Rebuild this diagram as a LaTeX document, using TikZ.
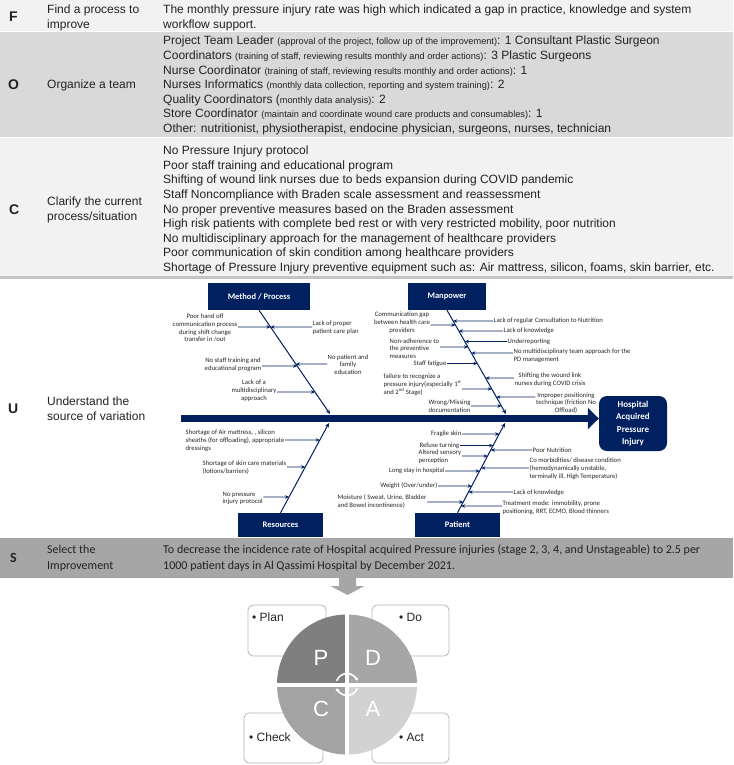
\documentclass[tikz,border=0pt]{standalone}
\usepackage{fontspec}
\setmainfont{Liberation Sans}
\newfontfamily\calfont{Carlito}
\usetikzlibrary{arrows.meta}
\definecolor{navy}{HTML}{002060}
\definecolor{rowA}{HTML}{F2F2F2}
\definecolor{rowB}{HTML}{D9D9D9}
\definecolor{rulec}{HTML}{C4C4C4}
\definecolor{rowS}{HTML}{A6A6A6}
\definecolor{txt}{HTML}{222222}
\definecolor{qP}{HTML}{7F7F7F}
\definecolor{qD}{HTML}{A6A6A6}
\definecolor{qC}{HTML}{A3A3A3}
\definecolor{qA}{HTML}{D2D2D2}
\newcommand\smtxt{\fontsize{9.2}{14.6}\selectfont}
\newcommand\causeleft[3]{\draw[cause] (#1.east |- 0,#3) -- (intersection of #2 and 0,#3--1,#3);}
\newcommand\causeright[3]{\draw[cause] (#1.west |- 0,#3) -- (intersection of #2 and 0,#3--1,#3);}
\begin{document}
\begin{tikzpicture}[x=1pt,y=-1pt,
  tab/.style={anchor=west, align=left, inner sep=0pt, font=\fontsize{12}{14.6}\selectfont, text=txt},
  lett/.style={anchor=west, inner sep=0pt, font=\bfseries\fontsize{14}{14}\selectfont, text=txt},
  fbbox/.style={fill=navy, text=white, font=\calfont\bfseries\fontsize{8.5}{10}\selectfont, inner sep=0pt},
  lbl/.style={inner sep=0.5pt, font=\calfont\fontsize{6.7}{7.8}\selectfont, text=black!85},
  bone/.style={draw=navy, line width=1pt, -{Stealth[length=4.5pt,width=4pt]}},
  cause/.style={draw=navy, line width=0.8pt, -{Stealth[length=4pt,width=3.5pt]}},
  pbox/.style={draw=black!28, line width=0.8pt, rounded corners=5pt, fill=white, inner sep=0pt},
  plbl/.style={anchor=west, inner sep=0pt, font=\fontsize{12}{14}\selectfont, text=black!85},
  pletter/.style={font=\fontsize{22}{22}\selectfont, text=white, inner sep=0pt}
]
\useasboundingbox (0,0) rectangle (733,765);
\fill[white] (0,0) rectangle (733,765);
% row backgrounds
\fill[rowA] (0,0) rectangle (733,31);
\fill[rowB] (0,32) rectangle (733,137);
\fill[rowA] (0,138) rectangle (733,276);
\fill[rulec] (0,276) rectangle (733,278.5);
\fill[rowS] (0,538) rectangle (733,578);

% first column letters
\node[lett] (lF) at (9,17) {F};
\node[lett] (lO) at (8,85) {O};
\node[lett] (lC) at (9,209.5) {C};
\node[lett] (lU) at (8,408.5) {U};
\node[lett, font=\calfont\bfseries\fontsize{14}{14}\selectfont] (lS) at (10,558) {S};

% second column
\node[tab] (nF) at (47,18) {Find a process to\\improve};
\node[tab] (nO) at (47,85.5) {Organize a team};
\node[tab] (nC) at (47,210) {Clarify the current\\process/situation};
\node[tab] (nU) at (47,409) {Understand the\\source of variation};
\node[tab, font=\calfont\fontsize{12}{16}\selectfont] (nS) at (47,558) {Select the\\Improvement};

% third column
\node[tab] (cF) at (163,18) {The monthly pressure injury rate was high which indicated a gap in practice, knowledge and system\\workflow support.};
\node[tab] (cO) at (163,85.5) {Project Team Leader {\smtxt(approval of the project, follow up of the improvement)}: 1 Consultant Plastic Surgeon\\
Coordinators {\smtxt(training of staff, reviewing results monthly and order actions)}: 3 Plastic Surgeons\\
Nurse Coordinator {\smtxt(training of staff, reviewing results monthly and order actions)}: 1\\
Nurses Informatics {\smtxt(monthly data collection, reporting and system training)}: 2\\
Quality Coordinators ({\smtxt monthly data analysis)}: 2\\
Store Coordinator {\smtxt(maintain and coordinate wound care products and consumables)}: 1\\
Other: nutritionist, physiotherapist, endocine physician, surgeons, nurses, technician};
\node[tab] (cC) at (163,210) {No Pressure Injury protocol\\
Poor staff training and educational program\\
Shifting of wound link nurses due to beds expansion during COVID pandemic\\
Staff Noncompliance with Braden scale assessment and reassessment\\
No proper preventive measures based on the Braden assessment\\
High risk patients with complete bed rest or with very restricted mobility, poor nutrition\\
No multidisciplinary approach for the management of healthcare providers\\
Poor communication of skin condition among healthcare providers\\
Shortage of Pressure Injury preventive equipment such as: Air mattress, silicon, foams, skin barrier, etc.};
\node[tab, font=\calfont\fontsize{12}{16}\selectfont] (cS) at (163,558) {To decrease the incidence rate of Hospital acquired Pressure injuries (stage 2, 3, 4, and Unstageable) to 2.5 per\\1000 patient days in Al Qassimi Hospital by December 2021.};

% ---------- fishbone ----------
\node[fbbox, minimum width=102pt, minimum height=27pt] (meth) at (259,296.5) {Method / Process};
\node[fbbox, minimum width=78pt, minimum height=27pt] (manp) at (447,296.5) {Manpower};
\node[fbbox, minimum width=85pt, minimum height=24pt] (reso) at (280.5,525) {Resources};
\node[fbbox, minimum width=85pt, minimum height=24pt] (pati) at (457.5,525) {Patient};
\node[fbbox, rounded corners=8pt, minimum width=68pt, minimum height=55pt, align=center, font=\calfont\bfseries\fontsize{9}{12.3}\selectfont] (hosp) at (633,423.5) {Hospital\\Acquired\\Pressure\\Injury};

\coordinate (spst) at (181,418.5);
\draw[navy, line width=7pt, -{Triangle[length=11pt,width=21pt]}] (spst) -- (spst -| hosp.west);

\coordinate (mj) at (330,414);
\coordinate (pj) at (506,414);
\coordinate (rj) at (329,423);
\coordinate (tj) at (505,423);
\draw[bone] (meth.south) -- (mj);
\draw[bone] (manp.south) -- (pj);
\draw[bone] (reso.north) -- (rj);
\draw[bone] (pati.north) -- (tj);

% Method / Process causes
\node[lbl, align=center] (m1) at (205,328) {Poor hand off\\communication process\\during shift change\\transfer in /out};
\node[lbl, align=left, anchor=west] (m2) at (312,327.5) {Lack of proper\\patient care plan};
\node[lbl, align=center] (m3) at (233,364.5) {No staff training and\\educational program};
\node[lbl, align=center] (m4) at (348,364.5) {No patient and\\family\\education};
\node[lbl, align=center] (m5) at (254,391) {Lack of a\\multidisciplinary\\approach};
\causeleft{m1}{meth.south--mj}{327}
\causeright{m2}{meth.south--mj}{327}
\causeleft{m3}{meth.south--mj}{366}
\causeright{m4}{meth.south--mj}{364}
\causeleft{m5}{meth.south--mj}{392}

% Manpower causes
\node[lbl, align=center] (p1) at (402,323) {Communication gap\\between health care\\providers};
\node[lbl, align=left, anchor=west] (p2) at (389,348.5) {Non-adherence to\\the preventive\\measures};
\node[lbl, anchor=west] (p3) at (413,363.5) {Staff fatigue};
\node[lbl, align=left, anchor=west] (p4) at (383,384.5) {failure to recognize a\\pressure injury(especially 1\textsuperscript{st}\\and 2\textsuperscript{nd} Stage)};
\node[lbl, align=left, anchor=west] (p5) at (428,406) {Wrong/Missing\\documentation};
\node[lbl, anchor=west] (q1) at (493,321) {Lack of regular Consultation to Nutrition};
\node[lbl, anchor=west] (q2) at (503,331) {Lack of knowledge};
\node[lbl, anchor=west] (q3) at (507,341.5) {Underreporting};
\node[lbl, align=left, anchor=west] (q4) at (513,356) {No multidisciplinary team approach for the\\PD management};
\node[lbl, align=center] (q5) at (550,380) {Shifting the wound link\\nurses during COVID crisis};
\node[lbl, align=center] (q6) at (566,403) {Improper positioning\\technique (friction No\\Offload)};
\causeleft{p1}{manp.south--pj}{325}
\causeleft{p2}{manp.south--pj}{347}
\causeleft{p3}{manp.south--pj}{363.5}
\causeleft{p4}{manp.south--pj}{389}
\causeleft{p5}{manp.south--pj}{406}
\causeright{q1}{manp.south--pj}{321}
\causeright{q2}{manp.south--pj}{331}
\causeright{q3}{manp.south--pj}{341.5}
\causeright{q4}{manp.south--pj}{353}
\causeright{q5}{manp.south--pj}{378}
\causeright{q6}{manp.south--pj}{397}

% Resources causes
\node[lbl, align=left, anchor=west] (r1) at (185,441) {Shortage of Air mattress, , silicon\\sheaths (for offloading), appropriate\\dressings};
\node[lbl, align=left, anchor=west] (r2) at (202,468) {Shortage of skin care materials\\(lotions/barriers)};
\node[lbl, align=left, anchor=west] (r3) at (222,498.5) {No pressure\\injury protocol};
\causeleft{r1}{reso.north--rj}{440}
\causeleft{r2}{reso.north--rj}{467}
\causeleft{r3}{reso.north--rj}{497}

% Patient causes
\node[lbl, anchor=east] (t1) at (462,433.5) {Fragile skin};
\node[lbl, anchor=east] (t2) at (460,445.5) {Refuse turning};
\node[lbl, align=left, anchor=west] (t3) at (418,456.5) {Altered sensory\\perception};
\node[lbl, anchor=east] (t4) at (445,470.5) {Long stay in hospital};
\node[lbl, anchor=east] (t5) at (438,485.5) {Weight (Over/under)};
\node[lbl, align=left, anchor=west] (t6) at (337,501.5) {Moisture ( Sweat, Urine, Bladder\\and Bowel incontinence)};
\node[lbl, anchor=west] (u1) at (532,450) {Poor Nutrition};
\node[lbl, align=left, anchor=west] (u2) at (529,468.5) {Co morbidities/ disease condition\\(hemodynamically unstable,\\terminally ill, High Temperature)};
\node[lbl, anchor=west] (u3) at (513,493) {Lack of knowledge};
\node[lbl, align=left, anchor=west] (u4) at (502,508) {Treatment mode: immobility, prone\\positioning, RRT, ECMO, Blood thinners};
\causeleft{t1}{pati.north--tj}{434}
\causeleft{t2}{pati.north--tj}{445.5}
\causeleft{t3}{pati.north--tj}{456}
\causeleft{t4}{pati.north--tj}{471}
\causeleft{t5}{pati.north--tj}{486}
\causeleft{t6}{pati.north--tj}{502}
\causeright{u1}{pati.north--tj}{450}
\causeright{u2}{pati.north--tj}{468}
\causeright{u3}{pati.north--tj}{492}
\causeright{u4}{pati.north--tj}{506}

% ---------- arrow down ----------
\fill[rowS] (339,578) -- (356,578) -- (356,586) -- (364.5,586) -- (347.5,595) -- (330.5,586) -- (339,586) -- cycle;

% ---------- PDCA ----------
\node[pbox, minimum width=78pt, minimum height=51pt] (bP) at (287,630.5) {};
\node[pbox, minimum width=77pt, minimum height=51pt] (bD) at (410.5,630.5) {};
\node[pbox, minimum width=79pt, minimum height=50pt] (bC) at (283.5,738) {};
\node[pbox, minimum width=77pt, minimum height=50pt] (bA) at (410.5,738) {};
\node[plbl] (tP) at (252,617) {\textbullet\ Plan};
\node[plbl] (tD) at (399,617) {\textbullet\ Do};
\node[plbl] (tC) at (249,737) {\textbullet\ Check};
\node[plbl] (tA) at (399,737) {\textbullet\ Act};

\coordinate (pc) at (347,684.5);
\fill[qP] (pc) -- ++(180:70) arc[start angle=180,end angle=270,radius=70] -- cycle;
\fill[qD] (pc) -- ++(270:70) arc[start angle=270,end angle=360,radius=70] -- cycle;
\fill[qC] (pc) -- ++(90:70) arc[start angle=90,end angle=180,radius=70] -- cycle;
\fill[qA] (pc) -- ++(0:70) arc[start angle=0,end angle=90,radius=70] -- cycle;
\draw[white, line width=4pt] (pc) ++(-71,0) -- ++(142,0);
\draw[white, line width=4pt] (pc) ++(0,-71) -- ++(0,142);
\draw[white, line width=1.6pt, -{Stealth[length=3pt,width=4.5pt]}] (pc) ++(200:11) arc[start angle=200,end angle=340,radius=11];
\draw[white, line width=1.6pt, -{Stealth[length=3pt,width=4.5pt]}] (pc) ++(20:11) arc[start angle=20,end angle=160,radius=11];
\node[pletter] (lP) at (321,658) {P};
\node[pletter] (lD) at (373,658) {D};
\node[pletter] (lC2) at (321,709) {C};
\node[pletter] (lA) at (373,709) {A};
\end{tikzpicture}
\end{document}
